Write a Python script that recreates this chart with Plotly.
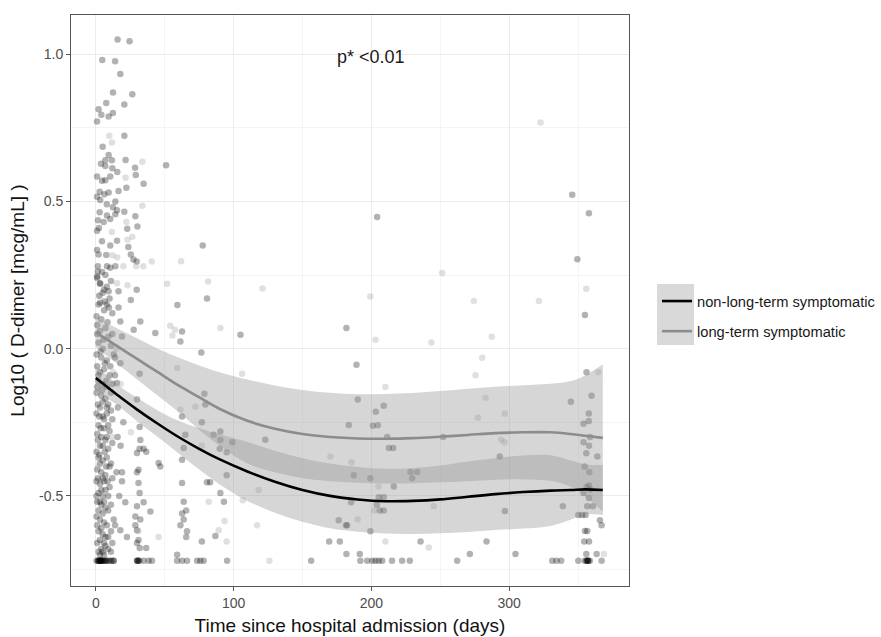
import plotly.graph_objects as go

# ---------------- data ----------------
# non-long-term symptomatic individual measurements (dark points)
dark_x = [
    15.8, 24.5, 4.7, 14, 17.8, 12.5, 26.5, 7.6, 20.7, 2, 0.9, 4, 9.3, 12.4,
    20.7, 5, 9.3, 6.9, 11.7, 21.6, 3.8, 6.9, 12, 15.6, 28.5, 29, 51, 0.9, 4.5, 6.9, 10.5, 34.7,
    2.8, 6.2, 9.3, 16.5, 22.2, 0.9, 3.2, 8, 14.2, 12.4, 15.4, 20.7, 28.7, 2.8, 1.6, 2.3, 0.9,
    5.7, 8.1, 10.5, 14.2, 22.8, 30.2, 77.6, 4.5, 10.5, 15.4, 2, 0.9, 7.6, 23.6, 25.4, 27.3,
    29.7, 8.1, 10.5, 14.2, 1.4, 80.7, 59.2, 0.9, 3.2, 6, 9.3, 16.5, 29.7, 3.2, 8, 25.4, 16.5,
    17.8, 27.5, 32.3, 43.2, 62.6, 61.4, 76.6, 31.8, 17.8, 19, 13.9, 15.3, 78.8, 79.5, 29.9,
    62.6, 77, 65, 31.8, 15.8, 32.3, 31.8, 36.6, 90.4, 85.5, 90.4, 90, 95, 63.8,
    29.9, 34.7, 45.6, 46.8, 31, 31, 29.9, 19, 62.6, 62.6, 80.7, 83, 95, 90.4, 93, 31.8, 21.4,
    34.7, 29.9, 39.6, 28.7, 32.3, 28.7, 63.8, 65.6, 62.6, 63.8, 61.4, 66.2, 65.6, 77, 86.8,
    22.6, 17.8, 29.9, 31, 29.9, 36.6, 31.9, 59,
    2, 4.5, 6.9, 12.9, 29.9, 31, 34.7, 38.3, 40.8, 59, 62.6, 66.2, 73.5, 75.9, 78.3, 95.3,
    2.5, 3.5, 4, 30.5, 31.5, 30,
    204.2, 181.9, 105, 189.2, 190.1, 209, 203.2, 183.6, 204.7, 201.1, 211.5, 212.7, 215.9,
    123, 99.1, 187.2, 199.3, 216.3, 228.4, 233.2, 229.6, 185.3, 205.4, 209, 204, 206, 209,
    176.3, 182.4, 181.5, 199.3, 169.4, 177.1, 181.9, 191.6,
    156.3, 192, 197, 200.6, 203, 205.4, 207.9, 215, 222.3, 227.9,
    357.9, 349.5, 355, 356.2, 344.8, 359.8, 357.8, 357.8, 354, 252.1, 358.7, 354, 358, 356,
    364, 293.2, 354.8, 358.2, 357.9, 356.2, 359, 354, 357.9, 356.7, 360.8, 339, 296.9, 350.2,
    353, 355.5, 365.9, 367.1, 355, 356.7, 235.7, 283.6, 354.5, 358, 271.5, 304.6, 356, 363.5,
    262.3, 331.3, 334.4, 337.8, 350.2, 354.8, 356, 357.2, 358.6, 367.1, 356.5, 357, 357.5,
    345.8,
    1, 3, 5, 8, 10, 2, 6, 12, 0.5, 4,
    1, 3, 7, 9, 2, 5, 11, 0.5, 4, 8, 13,
    1, 3, 6, 10, 2, 5, 8, 0.5, 4, 7, 11, 1.5, 9, 3,
    0.5, 5, 8, 12, 2, 6, 10, 1, 4, 7, 3, 9, 0.5,
    2, 5, 8, 11, 1, 4, 7, 0.5, 3, 6, 10, 2, 9, 5,
    1, 4, 7, 11, 0.5, 3, 6, 13, 2, 5, 9, 1, 4, 7, 11, 3, 6,
    0.5, 2, 3, 4, 5, 6, 7, 9, 13, 3.5,
    14, 16, 18, 15, 17, 14, 19, 20,
    1.5, 4.5, 7, 11, 2.5, 6.5, 9.5, 1, 5.5, 8.5, 12, 3.5, 6.5, 10.5, 2, 4.5, 7.5, 12, 1, 5,
    8, 11, 2.5, 6, 3.5, 9, 1.5, 5, 8, 12, 2.5, 6.5, 10, 3, 7.5, 1.5, 5, 8.5, 12, 4, 7, 0.5,
    3, 6, 9, 2, 5, 8, 1, 4, 11, 7, 3, 6, 9, 2, 5, 12, 1.5, 8, 10.5, 11.5,
]
dark_y = [
    1.05, 1.044, 0.98, 0.976, 0.933, 0.87, 0.864, 0.834, 0.829, 0.813, 0.771, 0.794, 0.788, 0.80,
    0.723, 0.686, 0.658, 0.64, 0.64, 0.641, 0.628, 0.62, 0.613, 0.60, 0.614, 0.59, 0.623, 0.585, 0.57, 0.572, 0.585, 0.56,
    0.533, 0.524, 0.53, 0.535, 0.546, 0.516, 0.505, 0.49, 0.50, 0.48, 0.47, 0.465, 0.45, 0.463, 0.436, 0.41, 0.4,
    0.43, 0.452, 0.44, 0.456, 0.407, 0.415, 0.35, 0.365, 0.35, 0.366, 0.32, 0.335, 0.318, 0.345, 0.32, 0.303,
    0.296, 0.28, 0.275, 0.28, 0.262, 0.17, 0.148, 0.245, 0.222, 0.2, 0.195, 0.195, 0.2, 0.156, 0.15, 0.165, 0.14,
    0.092, 0.064, 0.092, 0.053, 0.058, 0.024, -0.013, -0.085, -0.05, 0.041, -0.09, -0.117, -0.153, -0.19, -0.173,
    -0.23, -0.25, -0.292, -0.266, -0.3, -0.31, -0.34, -0.35, -0.281, -0.292, -0.31, -0.34, -0.352, -0.337,
    -0.354, -0.34, -0.388, -0.4, -0.411, -0.456, -0.42, -0.42, -0.377, -0.456, -0.454, -0.454, -0.43, -0.49, -0.52, -0.49, -0.522,
    -0.522, -0.535, -0.553, -0.57, -0.58, -0.6, -0.52, -0.55, -0.56, -0.58, -0.6, -0.62, -0.64, -0.655, -0.636,
    -0.64, -0.617, -0.617, -0.65, -0.66, -0.677, -0.677, -0.7,
    -0.72, -0.72, -0.72, -0.72, -0.72, -0.72, -0.72, -0.72, -0.72, -0.72, -0.72, -0.72, -0.72, -0.72, -0.72, -0.72,
    -0.72, -0.72, -0.72, -0.72, -0.72, -0.72,
    0.447, 0.07, 0.047, -0.055, -0.173, -0.194, -0.214, -0.259, -0.26, -0.262, -0.3, -0.337, -0.337,
    -0.309, -0.318, -0.43, -0.44, -0.468, -0.419, -0.419, -0.44, -0.522, -0.505, -0.505, -0.53, -0.55, -0.55,
    -0.583, -0.6, -0.6, -0.62, -0.655, -0.655, -0.697, -0.697,
    -0.72, -0.72, -0.72, -0.72, -0.72, -0.72, -0.72, -0.72, -0.72, -0.72,
    0.46, 0.304, 0.114, -0.08, -0.18, -0.16, -0.22, -0.246, -0.255, -0.3, -0.3, -0.318, -0.33, -0.355,
    -0.366, -0.366, -0.4, -0.42, -0.465, -0.47, -0.478, -0.49, -0.507, -0.535, -0.535, -0.535, -0.551, -0.565,
    -0.565, -0.565, -0.583, -0.6, -0.619, -0.619, -0.655, -0.655, -0.655, -0.655, -0.697, -0.697, -0.697, -0.697,
    -0.72, -0.72, -0.72, -0.72, -0.72, -0.72, -0.72, -0.72, -0.72, -0.72, -0.72, -0.72, -0.72,
    0.523,
    0.24, 0.22, 0.19, 0.21, 0.17, 0.15, 0.13, 0.12, 0.11, 0.1,
    0.08, 0.06, 0.07, 0.04, 0.02, 0.0, 0.01, -0.02, -0.03, -0.04, -0.02,
    -0.06, -0.08, -0.07, -0.09, -0.11, -0.12, -0.13, -0.15, -0.16, -0.17, -0.15, -0.19, -0.19, -0.2,
    -0.22, -0.23, -0.22, -0.24, -0.26, -0.27, -0.28, -0.29, -0.3, -0.31, -0.33, -0.34, -0.35,
    -0.37, -0.38, -0.37, -0.39, -0.41, -0.42, -0.43, -0.45, -0.46, -0.45, -0.47, -0.49, -0.5, -0.5,
    -0.52, -0.53, -0.54, -0.53, -0.57, -0.58, -0.59, -0.58, -0.62, -0.63, -0.64, -0.66, -0.68, -0.67, -0.69, -0.7, -0.7,
    -0.72, -0.72, -0.72, -0.72, -0.72, -0.72, -0.72, -0.72, -0.72, -0.72,
    -0.03, -0.2, -0.33, -0.42, -0.5, -0.6, -0.45, -0.25,
    0.28, 0.26, 0.25, 0.23, 0.18, 0.16, 0.14, 0.05, 0.03, 0.09, 0.05, -0.01, -0.05, -0.06, -0.09, -0.14, -0.11, -0.12, -0.13, -0.18,
    -0.2, -0.21, -0.23, -0.24, -0.27, -0.26, -0.31, -0.33, -0.3, -0.32, -0.36, -0.35, -0.4, -0.39, -0.4, -0.44, -0.44, -0.45, -0.44, -0.48, -0.48, -0.5,
    -0.52, -0.52, -0.55, -0.55, -0.56, -0.6, -0.6, -0.61, -0.62, -0.64, -0.65, -0.66, -0.68, -0.69, -0.69, -0.66, -0.72, -0.72, -0.72, -0.72,
]

# long-term symptomatic individual measurements (light points)
light_x = [
    9.8, 11.7, 33.8, 21.6, 33.8, 11.7, 22.2, 26.5, 23, 61.9, 12, 15.5, 20, 29.3, 34.5, 40.6,
    51.7, 81.5, 121, 15.4, 23,
    54, 57.4, 55.6, 90.4, 59, 12.7, 61.4, 72.3, 25.5, 77,
    82, 89.2, 93.4, 45.6, 31, 95,
    199.3, 203, 106.2, 210.2, 170.3, 185.5, 205.2, 118.2, 106.7, 190, 202, 117, 210.2, 126,
    251.4, 274.4, 321.6, 356, 287.4, 243.6, 280.5, 275.6, 364.7, 282.9, 277.3, 296.9, 294.2,
    296.6, 245.3, 241.7, 368.8, 322.8,
    3, 9, 12, 6, 15, 18, 2,
]
light_y = [
    0.723, 0.70, 0.635, 0.58, 0.485, 0.396, 0.43, 0.38, 0.37, 0.297, 0.317, 0.31, 0.28, 0.28, 0.28, 0.296,
    0.22, 0.228, 0.204, 0.222, 0.215,
    0.078, 0.064, 0.045, 0.07, -0.066, -0.08, -0.207, -0.197, -0.284, -0.33,
    -0.52, -0.617, -0.585, -0.64, -0.62, -0.655,
    0.177, 0.03, -0.085, -0.13, -0.366, -0.386, -0.468, -0.48, -0.515, -0.58, -0.55, -0.6, -0.655, -0.72,
    0.257, 0.162, 0.162, 0.203, 0.04, 0.021, -0.031, -0.09, -0.08, -0.167, -0.235, -0.221, -0.309,
    -0.318, -0.535, -0.675, -0.697, 0.768,
    0.18, -0.1, -0.3, -0.55, 0.0, -0.12, -0.4,
]

# loess fits with confidence bands
smooth_x = [0, 15, 30, 45, 60, 75, 90, 110, 130, 150, 170, 190, 210, 230, 250, 270, 290, 310, 330, 345, 355, 368]
nonlong_fit = [-0.10, -0.155, -0.207, -0.255, -0.30, -0.34, -0.376, -0.417, -0.452, -0.48, -0.50, -0.512,
               -0.518, -0.517, -0.512, -0.503, -0.494, -0.487, -0.482, -0.48, -0.478, -0.48]
nonlong_lo = [-0.145, -0.19, -0.247, -0.30, -0.355, -0.41, -0.461, -0.517, -0.557, -0.588, -0.61, -0.622,
              -0.628, -0.629, -0.627, -0.623, -0.616, -0.611, -0.602, -0.58, -0.563, -0.565]
nonlong_hi = [-0.055, -0.12, -0.167, -0.21, -0.245, -0.27, -0.291, -0.317, -0.347, -0.372, -0.39, -0.402,
              -0.408, -0.405, -0.397, -0.383, -0.372, -0.363, -0.362, -0.38, -0.393, -0.395]
long_fit = [0.055, 0.01, -0.035, -0.08, -0.125, -0.165, -0.205, -0.245, -0.272, -0.29, -0.30, -0.305,
            -0.306, -0.304, -0.299, -0.293, -0.287, -0.284, -0.284, -0.29, -0.296, -0.303]
long_lo = [0.005, -0.05, -0.105, -0.16, -0.215, -0.275, -0.33, -0.39, -0.42, -0.44, -0.45, -0.455,
           -0.458, -0.457, -0.454, -0.45, -0.445, -0.444, -0.449, -0.47, -0.501, -0.553]
long_hi = [0.105, 0.07, 0.035, 0.0, -0.03, -0.057, -0.08, -0.105, -0.125, -0.14, -0.15, -0.155,
           -0.154, -0.151, -0.144, -0.136, -0.129, -0.124, -0.119, -0.11, -0.091, -0.053]

x_tick_vals = [0, 100, 200, 300]
x_tick_text = ["0", "100", "200", "300"]
x_minor_vals = [50, 150, 250, 350]
y_tick_vals = [-0.5, 0.0, 0.5, 1.0]
y_tick_text = ["-0.5", "0.0", "0.5", "1.0"]
y_minor_vals = [-0.75, -0.25, 0.25, 0.75]
series_names = ["non-long-term symptomatic", "long-term symptomatic"]
p_label = "p* <0.01"

# ---------------- figure ----------------
fig = go.Figure()

fig.add_trace(go.Scatter(x=dark_x, y=dark_y, mode="markers", showlegend=False, hoverinfo="skip",
                         marker=dict(size=6.5, color="rgba(0,0,0,0.3)", line=dict(width=0))))
fig.add_trace(go.Scatter(x=light_x, y=light_y, mode="markers", showlegend=False, hoverinfo="skip",
                         marker=dict(size=6.5, color="rgba(153,153,153,0.3)", line=dict(width=0))))

band_fill = "rgba(153,153,153,0.4)"
for lo, hi in [(nonlong_lo, nonlong_hi), (long_lo, long_hi)]:
    fig.add_trace(go.Scatter(x=smooth_x, y=lo, mode="lines", line=dict(width=0, shape="spline"),
                             showlegend=False, hoverinfo="skip"))
    fig.add_trace(go.Scatter(x=smooth_x, y=hi, mode="lines", line=dict(width=0, shape="spline"),
                             fill="tonexty", fillcolor=band_fill, showlegend=False, hoverinfo="skip"))

fig.add_trace(go.Scatter(x=smooth_x, y=nonlong_fit, mode="lines", name=series_names[0],
                         legendgroup="a", line=dict(color="black", width=2.6, shape="spline")))
fig.add_trace(go.Scatter(x=smooth_x, y=long_fit, mode="lines", name=series_names[1],
                         legendgroup="b", line=dict(color="#8c8c8c", width=2.6, shape="spline")))

fig.add_annotation(x=200, y=0.99, text=p_label, showarrow=False,
                   font=dict(size=18, color="#1a1a1a"), xanchor="center", yanchor="middle")

# grey key background of the legend (ggplot style)
fig.add_shape(type="rect", xref="paper", yref="paper", x0=1.0502, x1=1.1165, y0=0.422, y1=0.529,
              fillcolor="#d9d9d9", line=dict(width=0), layer="below")

axis_common = dict(
    showline=True, linecolor="#555555", linewidth=1, mirror=True,
    ticks="outside", ticklen=4, tickcolor="#555555", tickwidth=1,
    tickfont=dict(size=14, color="#4d4d4d"),
    showgrid=True, gridcolor="#ebebeb", gridwidth=1, zeroline=False,
)

fig.update_xaxes(range=[-18, 387], tickmode="array", tickvals=x_tick_vals, ticktext=x_tick_text,
                 minor=dict(tickmode="array", tickvals=x_minor_vals, showgrid=True, gridcolor="#f4f4f4", ticks=""),
                 title=dict(text="Time since hospital admission (days)", font=dict(size=19, color="#111111"), standoff=8),
                 **axis_common)
fig.update_yaxes(range=[-0.806, 1.133], tickmode="array", tickvals=y_tick_vals, ticktext=y_tick_text,
                 minor=dict(tickmode="array", tickvals=y_minor_vals, showgrid=True, gridcolor="#f4f4f4", ticks=""),
                 title=dict(text="Log10 ( D-dimer [mcg/mL] )", font=dict(size=19, color="#111111"), standoff=9),
                 **axis_common)

fig.update_layout(
    width=881, height=637, autosize=False,
    margin=dict(l=71, r=252, t=15, b=51, autoexpand=False),
    plot_bgcolor="white", paper_bgcolor="white",
    font=dict(family="Liberation Sans, Arial, sans-serif"),
    legend=dict(x=1.0502, y=0.472, xanchor="left", yanchor="middle",
                font=dict(size=14.7, color="#1a1a1a"), bgcolor="rgba(0,0,0,0)",
                tracegroupgap=8, itemwidth=30),
)

fig.write_html("out.html")
